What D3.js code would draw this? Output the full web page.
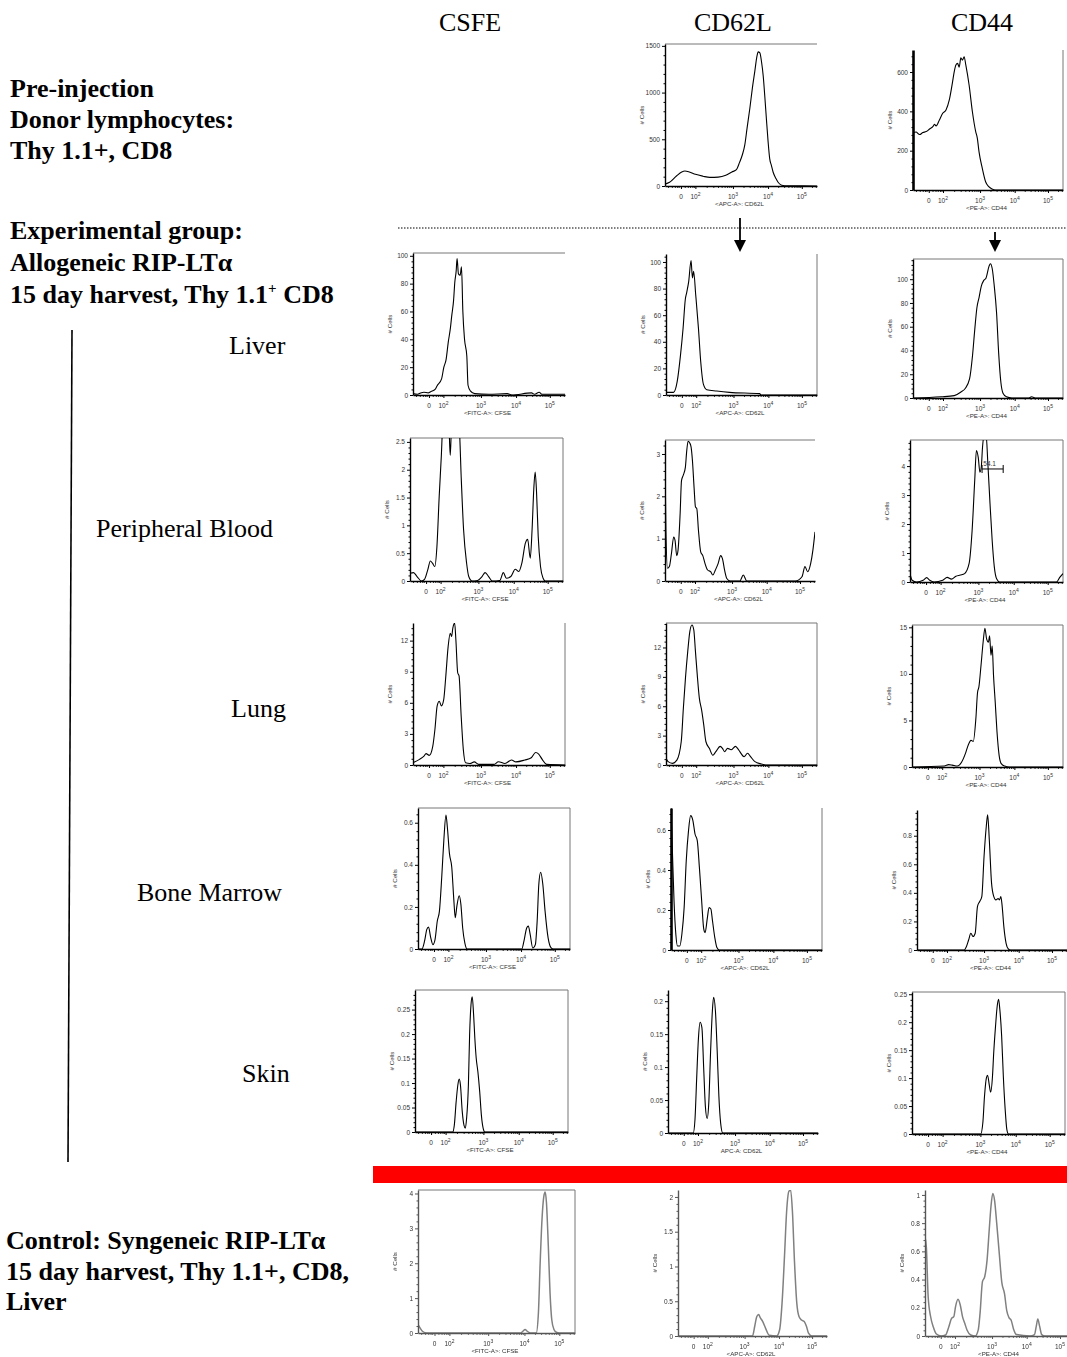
<!DOCTYPE html>
<html>
<head>
<meta charset="utf-8">
<script src="https://cdn.jsdelivr.net/npm/d3@7"></script>
<style>
  body { margin: 0; background: #fff; }
  svg { display: block; }
</style>
</head>
<body>
<div id="chart"></div>
<script>
// ---- data: x is position along the logicle axis (0..1), y is # cells ----
const columns = ['CSFE', 'CD62L', 'CD44'];
const xTickLabels = ['0', '10|2', '10|3', '10|4', '10|5'];
const xTickPos = [0.105, 0.2, 0.447, 0.678, 0.9];

const preCD62L = [[0,20],[0.03,40],[0.077,110],[0.11,150],[0.131,160],[0.16,150],[0.2,125],[0.25,105],[0.295,92],[0.35,95],[0.4,115],[0.44,150],[0.47,175],[0.49,250],[0.51,340],[0.525,440],[0.54,620],[0.558,830],[0.575,1050],[0.591,1230],[0.605,1390],[0.613,1436],[0.624,1425],[0.635,1330],[0.646,1180],[0.657,950],[0.667,720],[0.678,480],[0.689,290],[0.7,220],[0.711,150],[0.73,80],[0.744,40],[0.76,15],[0.777,5],[0.8,2],[0.9,2],[1,0]];
const preCD44 = [[0,290],[0.02,295],[0.044,282],[0.066,292],[0.088,297],[0.11,310],[0.132,322],[0.143,334],[0.154,326],[0.176,356],[0.198,390],[0.22,407],[0.242,458],[0.264,551],[0.275,602],[0.286,636],[0.297,644],[0.308,625],[0.319,672],[0.33,660],[0.341,678],[0.352,636],[0.374,534],[0.396,398],[0.418,297],[0.429,263],[0.44,195],[0.462,110],[0.484,42],[0.505,17],[0.527,5],[0.549,0],[1,0]];

const liverCFSE = [[0,1],[0.03,0.5],[0.05,1.5],[0.072,2],[0.1,1.5],[0.116,2.4],[0.13,3],[0.145,4],[0.159,6.7],[0.188,11.6],[0.203,20],[0.217,25],[0.232,38],[0.246,48],[0.255,57],[0.267,68],[0.275,81],[0.284,89],[0.29,98],[0.299,87],[0.31,86],[0.319,92],[0.328,60],[0.339,40],[0.354,28],[0.362,7],[0.377,3],[0.406,1],[0.5,0.5],[0.62,1],[0.65,0],[0.78,1.5],[0.8,0.5],[0.83,2],[0.85,0.5],[0.9,0.5],[1,0.5]];
const liverCD62L = [[0,2],[0.05,2],[0.074,10],[0.096,30],[0.113,50],[0.128,72],[0.137,77],[0.15,85],[0.166,101],[0.175,88],[0.183,93],[0.197,75],[0.215,50],[0.23,25],[0.248,8],[0.27,4],[0.336,3],[0.42,2],[0.62,1],[0.63,0],[1,0]];
const liverCD44 = [[0,0],[0.188,1],[0.275,2],[0.319,5],[0.348,8],[0.377,16],[0.397,36],[0.412,58],[0.426,76],[0.441,85],[0.455,94],[0.472,99],[0.487,101],[0.507,111],[0.516,113],[0.528,109],[0.542,94],[0.557,72],[0.571,38],[0.586,13],[0.6,4],[0.623,1],[0.66,0],[0.77,0],[0.79,1],[0.82,0],[1,0]];

const bloodCFSE = [[0,0.14],[0.023,0.15],[0.046,0.08],[0.075,0],[0.095,0.03],[0.116,0.2],[0.133,0.36],[0.147,0.32],[0.162,0.26],[0.176,0.62],[0.191,1.53],[0.205,2.26],[0.214,2.8],[0.235,3.0],[0.254,2.8],[0.263,2.26],[0.272,2.8],[0.3,3.0],[0.321,2.8],[0.335,1.84],[0.35,0.93],[0.37,0.32],[0.384,0.08],[0.405,0],[0.442,0.01],[0.471,0.08],[0.491,0.15],[0.514,0.08],[0.538,0],[0.587,0.01],[0.61,0.15],[0.63,0.05],[0.659,0.08],[0.688,0.21],[0.711,0.17],[0.731,0.32],[0.754,0.68],[0.769,0.75],[0.786,0.41],[0.798,0.93],[0.809,1.65],[0.818,1.96],[0.827,1.6],[0.838,0.8],[0.853,0.26],[0.87,0.05],[0.884,0],[1,0]];
const bloodCD62L = [[0,2.84],[0.006,1.2],[0.017,0.3],[0.029,0.34],[0.043,0.65],[0.058,1.04],[0.067,0.96],[0.078,0.6],[0.087,0.73],[0.101,1.6],[0.11,2.37],[0.122,2.5],[0.136,2.69],[0.145,3.08],[0.154,3.3],[0.165,3.26],[0.174,3.16],[0.183,2.84],[0.194,2.2],[0.203,1.75],[0.212,1.71],[0.223,1.2],[0.238,0.69],[0.252,0.6],[0.267,0.41],[0.284,0.26],[0.304,0.22],[0.319,0.14],[0.336,0.26],[0.354,0.41],[0.371,0.6],[0.383,0.53],[0.397,0.26],[0.412,0.06],[0.435,0],[0.499,0],[0.522,0.14],[0.545,0],[0.87,0],[0.913,0.1],[0.933,0.34],[0.951,0.22],[0.971,0.41],[0.986,0.73],[1,1.16]];
const bloodCD44 = [[0,0.29],[0.014,0.06],[0.043,0],[0.086,0.06],[0.109,0.15],[0.129,0.06],[0.157,0],[0.214,0.06],[0.243,0.16],[0.271,0.1],[0.3,0.2],[0.329,0.24],[0.357,0.29],[0.386,0.63],[0.406,1.78],[0.423,3.5],[0.434,4.54],[0.446,4.3],[0.457,3.79],[0.466,3.97],[0.474,4.65],[0.486,5.1],[0.497,5.1],[0.509,4.08],[0.523,2.7],[0.537,1.44],[0.551,0.52],[0.566,0.11],[0.586,0],[0.957,0],[0.98,0.17],[1,0.29]];
const bloodGate = [0.471, 0.609, 3.9];
const bloodGateLabel = '54.1';

const lungCFSE = [[0,0.22],[0.043,0.54],[0.072,0.85],[0.086,1.1],[0.107,0.93],[0.13,1.8],[0.144,3.4],[0.159,5.7],[0.173,6.15],[0.187,5.7],[0.202,6.3],[0.216,8.6],[0.231,11.4],[0.245,12.7],[0.254,12.4],[0.262,13.2],[0.274,13.7],[0.282,12.1],[0.294,8.9],[0.303,8.6],[0.317,4.7],[0.331,1.5],[0.346,0.22],[0.375,0.15],[0.403,0.3],[0.432,0.06],[0.533,0.06],[0.562,0.32],[0.605,0.15],[0.648,0.48],[0.677,0.3],[0.735,0.48],[0.778,0.7],[0.807,1.2],[0.827,1.05],[0.85,0.54],[0.879,0.06],[1,0]];
const lungCD62L = [[0,0.68],[0.014,0.34],[0.043,0.17],[0.072,0.5],[0.101,2.4],[0.115,5.8],[0.129,8.9],[0.144,11.6],[0.158,13.65],[0.172,14.3],[0.184,13.8],[0.195,11.6],[0.207,9.2],[0.221,6.8],[0.236,5.6],[0.25,4.1],[0.264,2.4],[0.287,1.7],[0.31,1.0],[0.33,1.36],[0.359,1.9],[0.374,1.7],[0.388,1.36],[0.408,1.7],[0.431,1.55],[0.46,1.9],[0.474,1.7],[0.489,1.36],[0.517,0.85],[0.54,1.2],[0.56,0.85],[0.589,0.34],[0.632,0.1],[0.66,0],[1,0]];
const lungCD44 = [[0,0],[0.214,0.1],[0.243,0.25],[0.266,0.2],[0.3,0.1],[0.329,0.54],[0.357,1.6],[0.371,2.3],[0.391,2.86],[0.406,2.75],[0.423,5.2],[0.434,8.0],[0.443,8.6],[0.457,10.9],[0.471,13.4],[0.483,14.9],[0.494,13.75],[0.506,13.4],[0.514,14.1],[0.523,12.0],[0.531,13.0],[0.54,9.8],[0.551,7.0],[0.563,3.75],[0.577,1.25],[0.591,0.36],[0.614,0.1],[0.643,0],[1,0]];

const marrowCFSE = [[0,0],[0.026,0],[0.043,0.037],[0.058,0.093],[0.069,0.104],[0.084,0.053],[0.098,0.021],[0.112,0.045],[0.127,0.133],[0.141,0.18],[0.156,0.34],[0.17,0.517],[0.184,0.637],[0.193,0.58],[0.207,0.453],[0.222,0.39],[0.236,0.23],[0.245,0.149],[0.256,0.205],[0.271,0.253],[0.282,0.213],[0.294,0.1],[0.308,0.029],[0.323,0],[0.683,0],[0.697,0.037],[0.715,0.1],[0.726,0.109],[0.738,0.069],[0.755,0.005],[0.772,0.021],[0.784,0.133],[0.795,0.309],[0.807,0.365],[0.821,0.309],[0.836,0.18],[0.856,0.053],[0.876,0.005],[0.89,0],[1,0]];
const marrowCD62L = [[0,0.71],[0.009,0.5],[0.02,0.246],[0.032,0.079],[0.043,0.02],[0.058,0.02],[0.072,0.079],[0.087,0.212],[0.101,0.446],[0.116,0.597],[0.13,0.672],[0.145,0.647],[0.159,0.58],[0.174,0.547],[0.188,0.413],[0.203,0.246],[0.217,0.104],[0.226,0.087],[0.241,0.162],[0.252,0.212],[0.264,0.205],[0.275,0.145],[0.29,0.062],[0.304,0.012],[0.319,0],[1,0]];
const marrowCD44 = [[0,0],[0.315,0],[0.329,0.023],[0.344,0.07],[0.359,0.117],[0.374,0.094],[0.388,0.117],[0.403,0.304],[0.418,0.34],[0.432,0.374],[0.447,0.655],[0.462,0.866],[0.471,0.947],[0.482,0.772],[0.497,0.468],[0.512,0.374],[0.526,0.351],[0.541,0.36],[0.55,0.351],[0.559,0.374],[0.568,0.304],[0.579,0.164],[0.594,0.047],[0.609,0.007],[0.624,0],[1,0]];

const skinCFSE = [[0,0],[0.246,0],[0.257,0.014],[0.269,0.062],[0.28,0.096],[0.289,0.108],[0.297,0.096],[0.309,0.041],[0.32,0.014],[0.329,0.008],[0.337,0.027],[0.349,0.096],[0.357,0.199],[0.366,0.26],[0.374,0.276],[0.383,0.24],[0.391,0.192],[0.4,0.151],[0.411,0.123],[0.423,0.082],[0.434,0.034],[0.446,0.007],[0.457,0],[1,0]];
const skinCD62L = [[0,0],[0.168,0],[0.18,0.021],[0.191,0.082],[0.203,0.144],[0.214,0.168],[0.226,0.16],[0.238,0.098],[0.249,0.041],[0.261,0.022],[0.272,0.046],[0.284,0.124],[0.296,0.186],[0.304,0.206],[0.316,0.186],[0.328,0.124],[0.339,0.057],[0.351,0.015],[0.365,0],[1,0]];
const skinCD44 = [[0,0],[0.449,0],[0.463,0.02],[0.474,0.068],[0.486,0.1],[0.494,0.105],[0.506,0.086],[0.514,0.075],[0.526,0.103],[0.534,0.145],[0.546,0.193],[0.557,0.229],[0.566,0.241],[0.574,0.223],[0.586,0.175],[0.597,0.103],[0.609,0.044],[0.62,0.008],[0.631,0],[1,0]];

const ctrlCFSE = [[0,0.24],[0.014,0.14],[0.028,0.05],[0.057,0],[0.653,0],[0.668,0.05],[0.682,0.1],[0.696,0.05],[0.716,0],[0.753,0],[0.767,0.58],[0.778,2.0],[0.79,3.27],[0.801,3.9],[0.81,4.04],[0.818,3.75],[0.83,2.5],[0.841,1.15],[0.852,0.38],[0.866,0.1],[0.881,0.02],[0.9,0],[1,0]];
const ctrlCD62L = [[0,0],[0.5,0],[0.515,0.14],[0.529,0.28],[0.541,0.31],[0.553,0.26],[0.568,0.21],[0.588,0.11],[0.612,0.01],[0.662,0],[0.682,0.09],[0.7,0.53],[0.715,1.16],[0.729,1.79],[0.744,2.08],[0.756,2.1],[0.768,1.79],[0.782,1.06],[0.797,0.48],[0.812,0.28],[0.829,0.23],[0.847,0.21],[0.862,0.14],[0.876,0.04],[0.897,0],[1,0]];
const ctrlCD44 = [[0,0.7],[0.009,0.63],[0.021,0.28],[0.037,0.14],[0.055,0.066],[0.076,0.014],[0.107,0],[0.137,0.007],[0.159,0.066],[0.177,0.125],[0.192,0.137],[0.204,0.21],[0.22,0.26],[0.235,0.22],[0.25,0.137],[0.265,0.09],[0.28,0.043],[0.305,0.007],[0.335,0],[0.355,0.043],[0.367,0.16],[0.383,0.385],[0.398,0.42],[0.414,0.54],[0.428,0.75],[0.44,0.92],[0.452,1.01],[0.464,0.96],[0.478,0.8],[0.494,0.6],[0.512,0.38],[0.53,0.3],[0.545,0.18],[0.56,0.13],[0.575,0.11],[0.59,0.05],[0.61,0.01],[0.7,0],[0.73,0.01],[0.742,0.07],[0.752,0.12],[0.764,0.07],[0.778,0.01],[0.8,0],[1,0]];

// y tick values
const ticks1500 = [0, 500, 1000, 1500];
const ticks600 = [0, 200, 400, 600];
const ticks100 = [0, 20, 40, 60, 80, 100];
const ticks25 = [0, 0.5, 1, 1.5, 2, 2.5];
const ticks3 = [0, 1, 2, 3];
const ticks4 = [0, 1, 2, 3, 4];
const ticks12 = [0, 3, 6, 9, 12];
const ticks15 = [0, 5, 10, 15];
const ticks06 = [0, 0.2, 0.4, 0.6];
const ticks08 = [0, 0.2, 0.4, 0.6, 0.8];
const ticks025 = [0, 0.05, 0.1, 0.15, 0.2, 0.25];
const ticks02 = [0, 0.05, 0.1, 0.15, 0.2];
const ticks2 = [0, 0.5, 1, 1.5, 2];
const ticks1 = [0, 0.2, 0.4, 0.6, 0.8, 1];

const xLabels = {CSFE: '<FITC-A>: CFSE', CD62L: '<APC-A>: CD62L', CD44: '<PE-A>: CD44'};

// ---- layout ----
const width = 1067, height = 1357;
const plots = [
  {col: 'CD62L', data: preCD62L, ticks: ticks1500, ymax: 1520, box: [665, 44, 152, 142], frame: 'top'},
  {col: 'CD44', data: preCD44, ticks: ticks600, ymax: 712, box: [913, 50, 150, 140], frame: 'right', thick: true},
  {col: 'CSFE', data: liverCFSE, ticks: ticks100, ymax: 102, box: [413, 253, 152, 142], frame: 'top'},
  {col: 'CD62L', data: liverCD62L, ticks: ticks100, ymax: 106, box: [666, 254, 151, 141], frame: 'right'},
  {col: 'CD44', data: liverCD44, ticks: ticks100, ymax: 117, box: [913, 259, 150, 139], frame: 'both'},
  {col: 'CSFE', data: bloodCFSE, ticks: ticks25, ymax: 2.57, box: [410, 438, 153, 143], frame: 'both'},
  {col: 'CD62L', data: bloodCD62L, ticks: ticks3, ymax: 3.33, box: [665, 440, 150, 141], frame: 'top'},
  {col: 'CD44', data: bloodCD44, ticks: ticks4, ymax: 4.9, box: [910, 440, 153, 142], frame: 'both', gate: true},
  {col: 'CSFE', data: lungCFSE, ticks: ticks12, ymax: 13.7, box: [413, 623, 152, 142], frame: 'right'},
  {col: 'CD62L', data: lungCD62L, ticks: ticks12, ymax: 14.5, box: [666, 623, 151, 142], frame: 'both'},
  {col: 'CD44', data: lungCD44, ticks: ticks15, ymax: 15.25, box: [912, 625, 151, 142], frame: 'both'},
  {col: 'CSFE', data: marrowCFSE, ticks: ticks06, ymax: 0.67, box: [418, 808, 152, 141], frame: 'both'},
  {col: 'CD62L', data: marrowCD62L, ticks: ticks06, ymax: 0.71, box: [671, 808, 151, 142], frame: 'right', thick: true},
  {col: 'CD44', data: marrowCD44, ticks: ticks08, ymax: 0.98, box: [917, 810, 150, 140], frame: 'none'},
  {col: 'CSFE', data: skinCFSE, ticks: ticks025, ymax: 0.29, box: [415, 990, 153, 142], frame: 'both'},
  {col: 'CD62L', data: skinCD62L, ticks: ticks02, ymax: 0.217, box: [668, 990, 150, 143], frame: 'none', xlabel: 'APC-A: CD62L'},
  {col: 'CD44', data: skinCD44, ticks: ticks025, ymax: 0.254, box: [912, 992, 153, 142], frame: 'both'},
  {col: 'CSFE', data: ctrlCFSE, ticks: ticks4, ymax: 4.1, box: [418, 1190, 157, 143], frame: 'both', ctrl: true},
  {col: 'CD62L', data: ctrlCD62L, ticks: ticks2, ymax: 2.1, box: [678, 1190, 149, 146], frame: 'none', ctrl: true},
  {col: 'CD44', data: ctrlCD44, ticks: ticks1, ymax: 1.035, box: [925, 1190, 150, 146], frame: 'none', ctrl: true}
];

const svg = d3.select('#chart')
  .append('svg')
  .attr('width', width)
  .attr('height', height)
  .attr('viewBox', `0 0 ${width} ${height}`);

const defs = svg.append('defs');
defs.append('filter').attr('id', 'soft')
  .append('feGaussianBlur').attr('stdDeviation', 0.45);

const serif = '"Liberation Serif", "Times New Roman", serif';
const sans = '"Liberation Sans", Arial, sans-serif';

// column headers
const headerX = {CSFE: 470, CD62L: 733, CD44: 982};
svg.selectAll('text.header')
  .data(columns)
  .join('text')
  .attr('class', 'header')
  .attr('x', d => headerX[d])
  .attr('y', 31)
  .attr('text-anchor', 'middle')
  .attr('font-family', serif)
  .attr('font-size', 26)
  .text(d => d);

// left-hand labels
const boldLines = [
  {t: 'Pre-injection', y: 97},
  {t: 'Donor lymphocytes:', y: 128},
  {t: 'Thy 1.1+, CD8', y: 159},
  {t: 'Experimental group:', y: 239},
  {t: 'Allogeneic RIP-LTα', y: 271},
  {t: 'Control: Syngeneic RIP-LTα', y: 1249, x: 6},
  {t: '15 day harvest, Thy 1.1+, CD8,', y: 1280, x: 6},
  {t: 'Liver', y: 1310, x: 6}
];
svg.selectAll('text.bold')
  .data(boldLines)
  .join('text')
  .attr('class', 'bold')
  .attr('x', d => d.x || 10)
  .attr('y', d => d.y)
  .attr('font-family', serif)
  .attr('font-weight', 'bold')
  .attr('font-size', 26)
  .text(d => d.t);

const sup = svg.append('text')
  .attr('x', 10).attr('y', 303)
  .attr('font-family', serif).attr('font-weight', 'bold').attr('font-size', 26);
sup.append('tspan').text('15 day harvest, Thy 1.1');
sup.append('tspan').attr('font-size', 15).attr('dy', -10).text('+');
sup.append('tspan').attr('dy', 10).text(' CD8');

const tissues = [
  {t: 'Liver', x: 229, y: 354},
  {t: 'Peripheral Blood', x: 96, y: 537},
  {t: 'Lung', x: 231, y: 717},
  {t: 'Bone Marrow', x: 137, y: 901},
  {t: 'Skin', x: 242, y: 1082}
];
svg.selectAll('text.tissue')
  .data(tissues)
  .join('text')
  .attr('class', 'tissue')
  .attr('x', d => d.x)
  .attr('y', d => d.y)
  .attr('font-family', serif)
  .attr('font-size', 26)
  .text(d => d.t);

// vertical bracket line
svg.append('line')
  .attr('x1', 72).attr('y1', 330).attr('x2', 68).attr('y2', 1162)
  .attr('stroke', '#000').attr('stroke-width', 1.6);

// dotted separator + arrows
svg.append('line')
  .attr('x1', 398).attr('x2', 1067).attr('y1', 228).attr('y2', 228)
  .attr('stroke', '#000').attr('stroke-width', 1.2)
  .attr('stroke-dasharray', '1.5,1.5');

[[740, 218], [995, 232]].forEach(([ax, ay]) => {
  svg.append('line')
    .attr('x1', ax).attr('x2', ax).attr('y1', ay).attr('y2', 242)
    .attr('stroke', '#000').attr('stroke-width', 1.8);
  svg.append('path')
    .attr('d', `M${ax - 6},${240} L${ax + 6},${240} L${ax},${252} Z`)
    .attr('fill', '#000');
});

// red separator bar
svg.append('rect')
  .attr('x', 373).attr('y', 1166).attr('width', 694).attr('height', 17)
  .attr('fill', '#ff0000');

// minor tick positions on the logicle axis, derived from the decade ticks
const xMinor = [];
[0.02, 0.045, 0.065, 0.08, 0.09, 0.13, 0.15, 0.165, 0.18, 0.19].forEach(v => xMinor.push(v));
for (let k = 1; k < xTickPos.length - 1; k++) {
  const a = xTickPos[k], b = xTickPos[k + 1];
  for (let m = 2; m < 10; m++) xMinor.push(a + (b - a) * Math.log10(m));
}
const dec = xTickPos[4] - xTickPos[3];
[2, 2.6].forEach(m => xMinor.push(xTickPos[4] + dec * Math.log10(m)));

// ---- draw each histogram ----
plots.forEach((p, i) => {
  const [left, top, w, h] = p.box;
  const ink = p.ctrl ? '#555' : '#000';
  const g = svg.append('g')
    .attr('transform', `translate(${left},${top})`)
    .attr('filter', p.ctrl ? 'url(#soft)' : null);

  const x = d3.scaleLinear().domain([0, 1]).range([0, w]);
  const y = d3.scaleLinear().domain([0, p.ymax]).range([h, 0]);

  if (p.frame === 'top' || p.frame === 'both') {
    g.append('line').attr('x1', 0).attr('x2', w).attr('y1', 0).attr('y2', 0)
      .attr('stroke', '#777').attr('stroke-width', 1);
  }
  if (p.frame === 'right' || p.frame === 'both') {
    g.append('line').attr('x1', w).attr('x2', w).attr('y1', 0).attr('y2', h)
      .attr('stroke', '#777').attr('stroke-width', 1);
  }

  defs.append('clipPath').attr('id', `clip-${i}`)
    .append('rect').attr('x', 0).attr('y', 0).attr('width', w).attr('height', h + 1);

  const line = d3.line()
    .x(d => x(d[0]))
    .y(d => y(d[1]))
    .curve(d3.curveMonotoneX);

  g.append('path')
    .datum(p.data)
    .attr('d', line)
    .attr('fill', 'none')
    .attr('stroke', p.ctrl ? '#808080' : '#000')
    .attr('stroke-width', p.ctrl ? 1.5 : 1.1)
    .attr('stroke-linejoin', 'round')
    .attr('clip-path', `url(#clip-${i})`);

  // y axis
  const yMinor = [];
  for (let k = 0; k < p.ticks.length; k++) {
    const a = p.ticks[k], step = p.ticks[1] - p.ticks[0];
    for (let m = 1; m < 5; m++) {
      const v = a + step * m / 5;
      if (v < p.ymax) yMinor.push(v);
    }
  }
  const yAxis = g.append('g')
    .call(d3.axisLeft(y).tickValues(p.ticks).tickSize(3).tickSizeOuter(0).tickPadding(2)
      .tickFormat(d => String(d)));
  yAxis.select('.domain').attr('stroke', ink).attr('stroke-width', p.thick ? 2.6 : 1.4);
  yAxis.selectAll('line').attr('stroke', ink);
  yAxis.selectAll('text')
    .attr('font-family', sans).attr('font-size', 6.5).attr('fill', '#333');

  g.append('g')
    .call(d3.axisLeft(y).tickValues(yMinor).tickSize(1.5).tickSizeOuter(0).tickFormat(''))
    .call(a => a.select('.domain').remove())
    .selectAll('line').attr('stroke', ink);

  // x axis
  const xAxis = g.append('g')
    .attr('transform', `translate(0,${h})`)
    .call(d3.axisBottom(x).tickValues(xTickPos).tickSize(3).tickSizeOuter(0).tickFormat(''));
  xAxis.select('.domain').attr('stroke', ink).attr('stroke-width', 1.6);
  xAxis.selectAll('line').attr('stroke', ink);

  g.append('g')
    .attr('transform', `translate(0,${h})`)
    .call(d3.axisBottom(x).tickValues(xMinor).tickSize(1.8).tickSizeOuter(0).tickFormat(''))
    .call(a => a.select('.domain').remove())
    .selectAll('line').attr('stroke', ink);

  const tl = g.selectAll('text.xt')
    .data(xTickLabels)
    .join('text')
    .attr('class', 'xt')
    .attr('x', (d, k) => x(xTickPos[k]))
    .attr('y', h + 13)
    .attr('text-anchor', 'middle')
    .attr('font-family', sans)
    .attr('font-size', 6.5)
    .attr('fill', '#333');
  tl.each(function (d) {
    const parts = d.split('|');
    const t = d3.select(this);
    t.append('tspan').text(parts[0]);
    if (parts[1]) t.append('tspan').attr('dy', -3.5).attr('font-size', 5).text(parts[1]);
  });

  g.append('text')
    .attr('x', x(0.49))
    .attr('y', h + 19.5)
    .attr('text-anchor', 'middle')
    .attr('font-family', sans)
    .attr('font-size', 6.2)
    .attr('fill', '#333')
    .text(p.xlabel || xLabels[p.col]);

  g.append('text')
    .attr('transform', `translate(${-21},${h / 2}) rotate(-90)`)
    .attr('text-anchor', 'middle')
    .attr('font-family', sans)
    .attr('font-size', 6.2)
    .attr('fill', '#333')
    .text('# Cells');

  if (p.gate) {
    const [g0, g1, gy] = bloodGate;
    g.append('line')
      .attr('x1', x(g0)).attr('x2', x(g1)).attr('y1', y(gy)).attr('y2', y(gy))
      .attr('stroke', '#000').attr('stroke-width', 1);
    [g0, g1].forEach(v => g.append('line')
      .attr('x1', x(v)).attr('x2', x(v)).attr('y1', y(gy) - 4).attr('y2', y(gy) + 4)
      .attr('stroke', '#000').attr('stroke-width', 1));
    g.append('text')
      .attr('x', x((g0 + g1) / 2) - 3).attr('y', y(gy) - 3)
      .attr('text-anchor', 'middle')
      .attr('font-family', sans).attr('font-size', 6.5).attr('fill', '#333')
      .text(bloodGateLabel);
  }
});
</script>
</body>
</html>
